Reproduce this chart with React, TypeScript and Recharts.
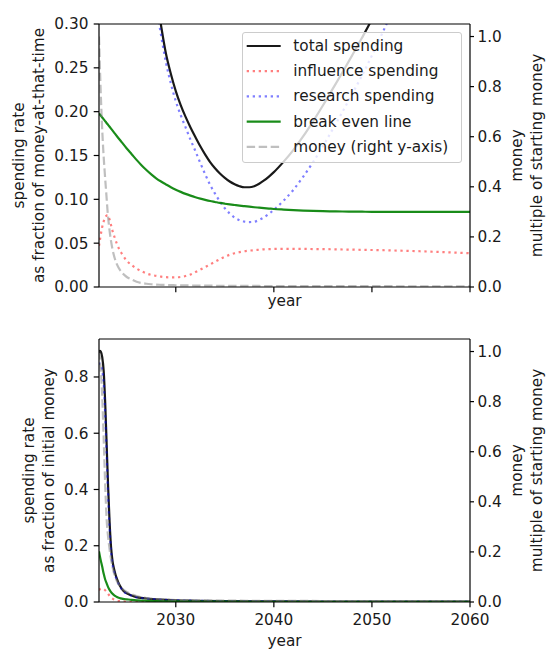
import React from 'react';
import { LineChart, Line, XAxis, YAxis, Legend, ReferenceLine } from 'recharts';

const FONT = '"DejaVu Sans", sans-serif';
const FS = 15.3;
const TXT = '#1a1a1a';

// ---------- ticks ----------
const xTicks = [2030, 2040, 2050, 2060];
const topLeftTicks = [0, 0.05, 0.1, 0.15, 0.2, 0.25, 0.3];
const bottomLeftTicks = [0, 0.2, 0.4, 0.6, 0.8];
const rightTicks = [0, 0.2, 0.4, 0.6, 0.8, 1.0];

// ---------- top panel: spending rate as fraction of money-at-that-time ----------
const topYears = [
  2022.17, 2022.3, 2022.45, 2022.6, 2022.75, 2022.9, 2023.05, 2023.25, 2023.5, 2023.75,
  2024, 2024.5, 2025, 2025.5, 2026, 2026.5, 2027, 2027.5, 2028, 2028.5,
  2029, 2029.5, 2030, 2030.5, 2031, 2031.5, 2032, 2032.5, 2033, 2033.5,
  2034, 2034.5, 2035, 2035.5, 2036, 2036.5, 2037, 2037.5, 2038, 2038.5,
  2039, 2039.5, 2040, 2041, 2042, 2043, 2044, 2045, 2046, 2047,
  2048, 2049, 2050, 2051, 2052, 2054, 2056, 2058, 2060,
];
const topTotal = [
  0.9, 0.95, 1.0, 1.05, 1.09, 1.11, 1.12, 1.11, 1.08, 1.02,
  0.96, 0.85, 0.75, 0.65, 0.56, 0.485, 0.425, 0.375, 0.335, 0.298,
  0.266, 0.243, 0.2235, 0.2075, 0.194, 0.182, 0.171, 0.1605, 0.151, 0.1425,
  0.1355, 0.1295, 0.1245, 0.1203, 0.1172, 0.115, 0.1138, 0.1138, 0.115, 0.1178,
  0.1215, 0.126, 0.131, 0.143, 0.1565, 0.172, 0.189, 0.207, 0.226, 0.245,
  0.2645, 0.2845, 0.3055, 0.329, 0.353, 0.405, 0.46, 0.52, 0.58,
];
const topInfluence = [
  0.047, 0.056, 0.066, 0.073, 0.078, 0.081, 0.082, 0.077, 0.066, 0.057,
  0.049, 0.038, 0.03, 0.025, 0.021, 0.018, 0.0155, 0.0138, 0.0127, 0.0118,
  0.0112, 0.011, 0.011, 0.0115, 0.0125, 0.0143, 0.017, 0.0198, 0.0228, 0.0258,
  0.0287, 0.0318, 0.0346, 0.0368, 0.0385, 0.0398, 0.0408, 0.0415, 0.042, 0.0425,
  0.043, 0.0432, 0.0434, 0.0436, 0.0436, 0.0435, 0.0433, 0.0432, 0.043, 0.0428,
  0.0426, 0.0424, 0.0422, 0.042, 0.0417, 0.0411, 0.0403, 0.0395, 0.0385,
];
const topResearch = [
  0.85, 0.89, 0.93, 0.98, 1.01, 1.03, 1.04, 1.03, 1.01, 0.96,
  0.91, 0.81, 0.72, 0.625, 0.54, 0.467, 0.41, 0.362, 0.322, 0.287,
  0.256, 0.232, 0.212, 0.196, 0.182, 0.168, 0.155, 0.1415, 0.1285, 0.1165,
  0.1065, 0.0975, 0.0898, 0.0838, 0.0792, 0.0762, 0.0746, 0.0741, 0.0745, 0.0765,
  0.0795, 0.0835, 0.088, 0.0985, 0.111, 0.126, 0.1425, 0.1605, 0.18, 0.2,
  0.2205, 0.2415, 0.264, 0.288, 0.313, 0.365, 0.42, 0.48, 0.54,
];
const topBreakEven = [
  0.198, 0.1962, 0.1941, 0.192, 0.1898, 0.1877, 0.1856, 0.1828, 0.1792, 0.1756,
  0.172, 0.165, 0.158, 0.1515, 0.145, 0.139, 0.1335, 0.1285, 0.124, 0.1203,
  0.117, 0.1138, 0.111, 0.1085, 0.1062, 0.1042, 0.1024, 0.1008, 0.0994, 0.0981,
  0.097, 0.0959, 0.095, 0.0942, 0.0935, 0.0928, 0.0922, 0.0916, 0.091, 0.0905,
  0.09, 0.0895, 0.089, 0.0883, 0.0877, 0.0872, 0.0868, 0.0865, 0.0863, 0.0861,
  0.086, 0.0859, 0.0858, 0.0858, 0.0857, 0.0857, 0.0856, 0.0856, 0.0856,
];
const topMoney = [
  1.0, 0.83, 0.67, 0.55, 0.46, 0.38, 0.3, 0.225, 0.16, 0.118,
  0.09, 0.058, 0.04, 0.03, 0.021, 0.016, 0.013, 0.011, 0.0095, 0.0088,
  0.008, 0.0075, 0.007, 0.0066, 0.0063, 0.006, 0.0058, 0.0056, 0.0054, 0.0052,
  0.005, 0.0049, 0.0048, 0.0047, 0.0046, 0.0045, 0.0044, 0.0043, 0.0042, 0.0041,
  0.004, 0.004, 0.0039, 0.0038, 0.0037, 0.0036, 0.0035, 0.0035, 0.0034, 0.0033,
  0.0033, 0.0032, 0.0032, 0.0031, 0.0031, 0.003, 0.003, 0.003, 0.003,
];

// ---------- bottom panel: spending rate as fraction of initial money ----------
const bottomYears = [
  2022.17, 2022.25, 2022.35, 2022.5, 2022.65, 2022.8, 2022.95, 2023.1, 2023.25, 2023.4,
  2023.55, 2023.7, 2023.85, 2024, 2024.25, 2024.5, 2024.75, 2025, 2025.5, 2026,
  2026.5, 2027, 2028, 2029, 2030, 2032, 2035, 2040, 2045, 2050,
  2055, 2060,
];
const bottomTotal = [
  0.885, 0.893, 0.89, 0.87, 0.82, 0.71, 0.56, 0.41, 0.285, 0.195,
  0.145, 0.118, 0.098, 0.082, 0.061, 0.047, 0.037, 0.031, 0.023, 0.0175,
  0.0145, 0.0125, 0.0095, 0.0075, 0.006, 0.0045, 0.003, 0.0022, 0.0018, 0.0016,
  0.0015, 0.0014,
];
const bottomInfluence = [
  0.042, 0.045, 0.047, 0.048, 0.046, 0.042, 0.036, 0.029, 0.022, 0.016,
  0.012, 0.009, 0.0068, 0.0052, 0.0035, 0.0024, 0.0017, 0.0012, 0.0007, 0.0004,
  0.0003, 0.0002, 0.00015, 0.0001, 0.0001, 0.0001, 0.0001, 0.0001, 0.0001, 0.0001,
  0.0001, 0.0001,
];
const bottomResearch = [
  0.843, 0.848, 0.843, 0.822, 0.774, 0.668, 0.524, 0.381, 0.263, 0.179,
  0.133, 0.109, 0.0912, 0.0768, 0.0575, 0.0446, 0.0353, 0.0298, 0.0223, 0.0171,
  0.0142, 0.0123, 0.0093, 0.0074, 0.0059, 0.0044, 0.0029, 0.0021, 0.0017, 0.0015,
  0.0014, 0.0013,
];
const bottomBreakEven = [
  0.18, 0.165, 0.148, 0.125, 0.1, 0.08, 0.066, 0.053, 0.043, 0.035,
  0.029, 0.0245, 0.021, 0.018, 0.0145, 0.012, 0.0105, 0.0095, 0.0075, 0.006,
  0.005, 0.0042, 0.0032, 0.0025, 0.002, 0.0014, 0.001, 0.0007, 0.0006, 0.0005,
  0.0005, 0.0004,
];
const bottomMoney = [
  1.0, 0.98, 0.93, 0.82, 0.65, 0.47, 0.33, 0.26, 0.21, 0.17,
  0.14, 0.115, 0.097, 0.083, 0.066, 0.055, 0.046, 0.04, 0.031, 0.024,
  0.019, 0.016, 0.012, 0.0095, 0.008, 0.0065, 0.0055, 0.0045, 0.004, 0.0035,
  0.0032, 0.003,
];

const topData = topYears.map((year, i) => ({
  year,
  total: topTotal[i],
  influence: topInfluence[i],
  research: topResearch[i],
  breakEven: topBreakEven[i],
  money: topMoney[i],
}));
const bottomData = bottomYears.map((year, i) => ({
  year,
  total: bottomTotal[i],
  influence: bottomInfluence[i],
  research: bottomResearch[i],
  breakEven: bottomBreakEven[i],
  money: bottomMoney[i],
}));

// ---------- series styles ----------
const LW = 2.2;
const SERIES = [
  { key: 'total', name: 'total spending', stroke: '#000000', opacity: 0.9, dash: undefined as string | undefined, axis: 'left' },
  { key: 'influence', name: 'influence spending', stroke: '#ff0000', opacity: 0.5, dash: '2.3 3.7', axis: 'left' },
  { key: 'research', name: 'research spending', stroke: '#0000ff', opacity: 0.5, dash: '2.3 3.7', axis: 'left' },
  { key: 'breakEven', name: 'break even line', stroke: '#008000', opacity: 0.9, dash: undefined as string | undefined, axis: 'left' },
  { key: 'money', name: 'money (right y-axis)', stroke: '#808080', opacity: 0.5, dash: '8.4 3.6', axis: 'right' },
];

const X0 = 2022.17;
const X1 = 2060;

function YTitle(props: any) {
  const vb = props.viewBox || { x: 0, y: 24, width: 99, height: 263 };
  const cy = vb.y + vb.height / 2;
  const lines: string[] = props.lines;
  const xs: number[] = props.xs;
  return (
    <g>
      {lines.map((t, i) => (
        <text
          key={i}
          x={xs[i]}
          y={cy}
          transform={`rotate(-90 ${xs[i]} ${cy})`}
          textAnchor="middle"
          fontSize={FS}
          fontFamily={FONT}
          fill={TXT}
        >
          {t}
        </text>
      ))}
    </g>
  );
}

function XTitle(props: any) {
  const vb = props.viewBox || { x: 99, y: 287, width: 371, height: 28 };
  return (
    <text
      x={vb.x + vb.width / 2}
      y={vb.y + props.dyBase}
      textAnchor="middle"
      fontSize={FS}
      fontFamily={FONT}
      fill={TXT}
    >
      year
    </text>
  );
}

function LegendBox() {
  return (
    <div
      style={{
        width: 220,
        height: 131,
        boxSizing: 'border-box',
        border: '1px solid #cccccc',
        borderRadius: 3,
        background: 'rgba(255,255,255,0.8)',
        position: 'relative',
      }}
    >
      <svg width={220} height={131} style={{ position: 'absolute', left: -1, top: -1 }}>
        {SERIES.map((s, i) => {
          const y = 14 + i * 25.2;
          return (
            <g key={s.key}>
              <line
                x1={4.7}
                x2={38.7}
                y1={y}
                y2={y}
                stroke={s.stroke}
                strokeOpacity={s.opacity}
                strokeWidth={LW}
                strokeDasharray={s.dash}
              />
              <text x={51.3} y={y + 5} fontSize={FS} fontFamily={FONT} fill={TXT}>
                {s.name}
              </text>
            </g>
          );
        })}
      </svg>
    </div>
  );
}

const axisLineStyle = { stroke: '#000', strokeWidth: 1.2 };
const tickStyle = { fill: TXT, fontSize: FS, fontFamily: FONT };

function renderLines() {
  return SERIES.map((s) => (
    <Line
      key={s.key}
      yAxisId={s.axis}
      dataKey={s.key}
      name={s.name}
      type="monotone"
      stroke={s.stroke}
      strokeOpacity={s.opacity}
      strokeWidth={LW}
      strokeDasharray={s.dash}
      dot={false}
      activeDot={false}
      isAnimationActive={false}
    />
  ));
}

export default function App() {
  return (
    <div
      style={{
        position: 'absolute',
        left: 0,
        top: 0,
        width: 547,
        height: 654,
        background: '#fff',
        fontFamily: FONT,
      }}
    >
      <div style={{ position: 'absolute', left: 0, top: 0 }}>
        <LineChart width={547} height={315} data={topData} margin={{ top: 24, right: 0, bottom: 0, left: 0 }}>
          <XAxis
            dataKey="year"
            type="number"
            domain={[X0, X1]}
            ticks={xTicks}
            interval={0}
            allowDataOverflow
            height={28}
            axisLine={axisLineStyle}
            tickLine={axisLineStyle}
            tickSize={5.3}
            tick={() => <g />}
            label={<XTitle dyBase={18.5} />}
          />
          <YAxis
            yAxisId="left"
            orientation="left"
            width={99}
            domain={[0, 0.3]}
            ticks={topLeftTicks}
            interval={0}
            allowDataOverflow
            axisLine={axisLineStyle}
            tickLine={axisLineStyle}
            tickSize={5.3}
            tickMargin={5.3}
            tick={tickStyle}
            tickFormatter={(v: number) => v.toFixed(2)}
            label={<YTitle lines={['spending rate', 'as fraction of money-at-that-time']} xs={[23.5, 43.5]} />}
          />
          <YAxis
            yAxisId="right"
            orientation="right"
            width={77}
            domain={[0, 1.05]}
            ticks={rightTicks}
            interval={0}
            allowDataOverflow
            axisLine={axisLineStyle}
            tickLine={axisLineStyle}
            tickSize={4}
            tickMargin={3.5}
            tick={tickStyle}
            tickFormatter={(v: number) => v.toFixed(1)}
            label={<YTitle lines={['money', 'multiple of starting money']} xs={[521.5, 541.5]} />}
          />
          {renderLines()}
          <ReferenceLine yAxisId="left" y={0.3} stroke="#000" strokeWidth={1.2} />
          <Legend
            layout="vertical"
            align="center"
            verticalAlign="middle"
            wrapperStyle={{ left: 242, top: 32, width: 220, height: 131 }}
            content={() => <LegendBox />}
          />
        </LineChart>
      </div>
      <div style={{ position: 'absolute', left: 0, top: 315 }}>
        <LineChart width={547} height={339} data={bottomData} margin={{ top: 24, right: 0, bottom: 0, left: 0 }}>
          <XAxis
            dataKey="year"
            type="number"
            domain={[X0, X1]}
            ticks={xTicks}
            interval={0}
            allowDataOverflow
            height={52}
            axisLine={axisLineStyle}
            tickLine={axisLineStyle}
            tickSize={5.3}
            tickMargin={7}
            tick={tickStyle}
            tickFormatter={(v: number) => String(v)}
            label={<XTitle dyBase={43.5} />}
          />
          <YAxis
            yAxisId="left"
            orientation="left"
            width={99}
            domain={[0, 0.935]}
            ticks={bottomLeftTicks}
            interval={0}
            allowDataOverflow
            axisLine={axisLineStyle}
            tickLine={axisLineStyle}
            tickSize={5.3}
            tickMargin={5.3}
            tick={tickStyle}
            tickFormatter={(v: number) => v.toFixed(1)}
            label={<YTitle lines={['spending rate', 'as fraction of initial money']} xs={[33.5, 53.5]} />}
          />
          <YAxis
            yAxisId="right"
            orientation="right"
            width={77}
            domain={[0, 1.05]}
            ticks={rightTicks}
            interval={0}
            allowDataOverflow
            axisLine={axisLineStyle}
            tickLine={axisLineStyle}
            tickSize={4}
            tickMargin={3.5}
            tick={tickStyle}
            tickFormatter={(v: number) => v.toFixed(1)}
            label={<YTitle lines={['money', 'multiple of starting money']} xs={[521.5, 541.5]} />}
          />
          {renderLines()}
          <ReferenceLine yAxisId="left" y={0.935} stroke="#000" strokeWidth={1.2} />
        </LineChart>
      </div>
    </div>
  );
}
